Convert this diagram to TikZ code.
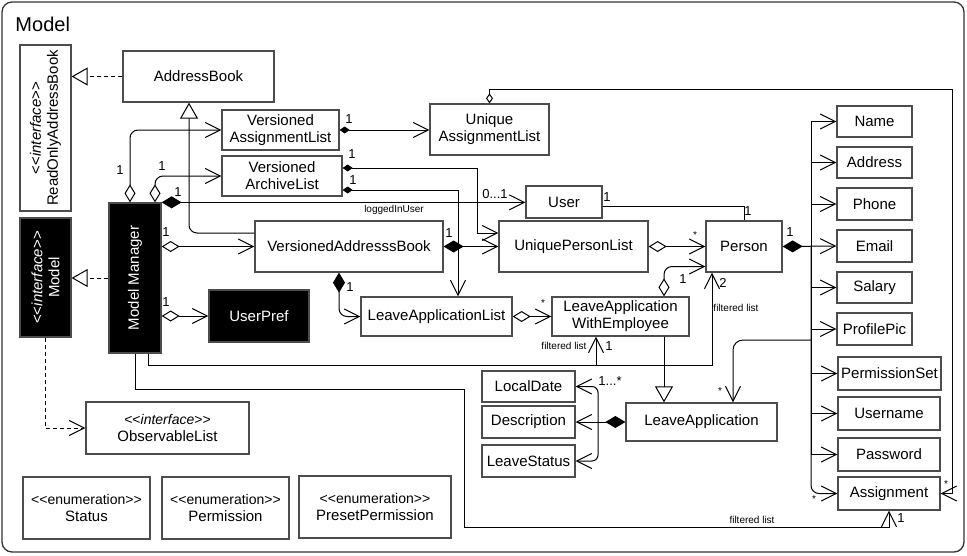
\documentclass[tikz,border=0pt]{standalone}
\usepackage{fontspec}
\setmainfont{Liberation Sans}
\usepackage{tikz}
\usetikzlibrary{arrows.meta}
\newcommand\ster[1]{<{}<#1>{}>}

\begin{document}
\begin{tikzpicture}[x=1pt,y=-1pt,line width=1pt,align=center,
    >={Straight Barb[length=15pt,width=15pt]},
    cls/.style={draw=black!70,line width=1.3pt,inner sep=1pt,font=\fontsize{15}{17}\selectfont},
    dark/.style={cls,fill=black,text=white},
    mult/.style={inner sep=0pt,font=\fontsize{13}{13}\selectfont},
    note/.style={inner sep=0pt,font=\fontsize{10}{10}\selectfont},
    agg/.style={{Diamond[open,length=18pt,width=11pt]}->},
    comp/.style={{Diamond[length=20pt,width=12pt]}->},
    sagg/.style={{Diamond[open,length=10pt,width=7pt]}->},
    scomp/.style={{Diamond[length=10pt,width=7pt]}->},
    gen/.style={-{Triangle[open,length=16pt,width=18pt]}},
    real/.style={dash pattern=on 4pt off 3pt,gen},
    dep/.style={dash pattern=on 4pt off 3pt,->}]
  \useasboundingbox (0,0) rectangle (967,555);
  \draw[line width=1.3pt,draw=black!80,rounded corners=10pt] (2,2) rectangle (964,552);
  \node[anchor=west,inner sep=0pt,font=\fontsize{20}{20}\selectfont] at (15,24) (title) {Model};

  % classes, rotated ones read bottom to top
  \node[cls,rotate=90,minimum width=166,minimum height=51] at (45.5,128) (ROAB) {\ster{\textit{interface}}\\ReadOnlyAddressBook};
  \node[dark,rotate=90,minimum width=119,minimum height=51] at (45.5,277.5) (Model) {\ster{\textit{interface}}\\Model};
  \node[dark,rotate=90,minimum width=150,minimum height=52] at (135,278) (MM) {Model Manager};
  \node[cls,minimum width=151,minimum height=51] at (198.5,76.5) (AB) {AddressBook};
  \node[cls,minimum width=117,minimum height=40] at (280.5,130) (VAssign) {Versioned\\AssignmentList};
  \node[cls,minimum width=120,minimum height=40] at (282,176) (VArch) {Versioned\\ArchiveList};
  \node[cls,minimum width=119,minimum height=51] at (489.5,129.5) (UAssign) {Unique\\AssignmentList};
  \node[cls,minimum width=188,minimum height=51] at (349,246.5) (VAB) {VersionedAddresssBook};
  \node[cls,minimum width=149,minimum height=51] at (573.5,246.5) (UPList) {UniquePersonList};
  \node[cls,minimum width=76,minimum height=32] at (564,202) (User) {User};
  \node[cls,minimum width=76,minimum height=51] at (744,246.5) (Person) {Person};
  \node[dark,minimum width=100,minimum height=52] at (259,316) (UPref) {UserPref};
  \node[cls,minimum width=151,minimum height=39] at (436.5,316.5) (LeaveList) {LeaveApplicationList};
  \node[cls,minimum width=137,minimum height=39] at (620.5,316.5) (LeaveEmp) {LeaveApplication\\WithEmployee};
  \node[cls,minimum width=151,minimum height=38] at (701.5,422) (LeaveApp) {LeaveApplication};
  \node[cls,minimum width=93,minimum height=31] at (528.5,386.5) (LDate) {LocalDate};
  \node[cls,minimum width=93,minimum height=32] at (528.5,422) (Descr) {Description};
  \node[cls,minimum width=93,minimum height=32] at (528.5,461) (LStatus) {LeaveStatus};
  \node[cls,minimum width=163,minimum height=52] at (167.5,428) (ObsList) {{\fontsize{14}{16}\selectfont\ster{\textit{interface}}}\\ObservableList};
  \node[cls,minimum width=127,minimum height=62] at (86.5,508) (Status) {{\fontsize{14}{16}\selectfont\ster{enumeration}}\\Status};
  \node[cls,minimum width=127,minimum height=62] at (225.5,508) (Perm) {{\fontsize{14}{16}\selectfont\ster{enumeration}}\\Permission};
  \node[cls,minimum width=152,minimum height=62] at (375,507) (Preset) {{\fontsize{14}{16}\selectfont\ster{enumeration}}\\PresetPermission};

  % person fields
  \node[cls,minimum width=75,minimum height=31] at (874.5,121.5) (Name) {Name};
  \node[cls,minimum width=75,minimum height=31] at (874.5,162.5) (Address) {Address};
  \node[cls,minimum width=75,minimum height=32] at (874.5,204) (Phone) {Phone};
  \node[cls,minimum width=75,minimum height=32] at (874.5,246) (Email) {Email};
  \node[cls,minimum width=75,minimum height=31] at (874.5,287.5) (Salary) {Salary};
  \node[cls,minimum width=75,minimum height=32] at (874.5,329) (ProfPic) {ProfilePic};
  \node[cls,minimum width=103,minimum height=33] at (889.5,373.5) (PermSet) {PermissionSet};
  \node[cls,minimum width=102,minimum height=33] at (889,413.5) (UserName) {Username};
  \node[cls,minimum width=102,minimum height=33] at (889,454.5) (Passwd) {Password};
  \node[cls,minimum width=102,minimum height=33] at (889,493.5) (Assign) {Assignment};

  \coordinate (bus) at (811,246.5);
  \coordinate (busLA) at (811,340);
  \coordinate (lbus) at (598,422);

  % interfaces and inheritance
  \draw[real] (AB.west) -- (AB.west -| ROAB.south);
  \draw[real] (MM.north) -- (MM.north -| Model.south);
  \draw[dep] (Model.west) |- (ObsList.west);
  \draw[gen,rounded corners=8pt] ([yshift=13.5pt]VAB.west) -| ([xshift=-9.5pt]AB.south);
  \draw[gen] ([xshift=43.5pt]LeaveEmp.south) -- ([xshift=43.5pt]LeaveEmp.south |- LeaveApp.north);

  % model manager
  \draw[agg,rounded corners=8pt] ([xshift=-5pt]MM.east) |- (VAssign.west);
  \draw[agg,rounded corners=8pt] ([xshift=20pt]MM.east) |- (VArch.west);
  \draw[comp] (MM.south east) -- (MM.south east -| User.west);
  \draw[agg] (MM.south |- VAB.west) -- (VAB.west);
  \draw[agg] (MM.south |- UPref.west) -- (UPref.west);
  \draw[->] ([xshift=13pt]MM.west) -- ++(0,12) -| ([xshift=-24.5pt]LeaveEmp.south);
  \draw[->] ([xshift=13pt]MM.west) -- ++(0,12) -| ([xshift=-32pt]Person.south);
  \draw[->] (MM.west) |- (464,389) -- (464,527) -| (Assign.south);

  % lists
  \draw[scomp] (VAssign.east) -- (VAssign.east -| UAssign.west);
  \draw[sagg] (UAssign.north) |- (952,89) |- (Assign.east);
  \draw[scomp] ([yshift=8pt]VArch.east) -| (477,233) -- ([yshift=13.5pt]UPList.west);
  \draw[scomp] ([yshift=-14pt]VArch.east) -| ([xshift=21.5pt]LeaveList.north);
  \draw[comp] (VAB.east) -- (UPList.west);
  \draw[comp,rounded corners=8pt] ([xshift=-10pt]VAB.south) |- (LeaveList.west);
  \draw[agg] (UPList.east) -- (Person.west);
  \draw ([yshift=-4pt]User.east) -| (Person.north);
  \draw[agg] (LeaveList.east) -- (LeaveEmp.west);
  \draw[agg,rounded corners=8pt] ([xshift=43.5pt]LeaveEmp.north) |- ([yshift=-20pt]Person.west);

  % fields
  \draw[comp] (Person.east) -- (Email.west);
  \foreach \f in {Name,Address,Phone,Salary,ProfPic,PermSet,UserName,Passwd}
    \draw[->] (bus) |- (\f.west);
  \draw[->,rounded corners=8pt] (bus) |- (Assign.west);
  \draw[->,rounded corners=10pt] (busLA) -| ([xshift=31.5pt]LeaveApp.north);
  \draw[comp] (LeaveApp.west) -- (Descr.east);
  \draw[->,rounded corners=6pt] (lbus) |- (LDate.east);
  \draw[->,rounded corners=6pt] (lbus) |- (LStatus.east);

  % multiplicities and roles
  \node[mult] at (120,170) (m1) {1};
  \node[mult] at (162,166) (m2) {1};
  \node[mult] at (178,192) (m3) {1};
  \node[note] at (394,210) (r1) {loggedInUser};
  \node[mult] at (495,194) (m4) {0...1};
  \node[mult] at (166,232) (m5) {1};
  \node[mult] at (166,302) (m6) {1};
  \node[mult] at (349,119) (m7) {1};
  \node[mult] at (352,154) (m8) {1};
  \node[mult] at (353,180) (m9) {1};
  \node[mult] at (449,233) (m10) {1};
  \node[mult] at (350,287) (m11) {1};
  \node[note] at (695,235) (s1) {*};
  \node[mult] at (607,197) (m12) {1};
  \node[mult] at (748,211) (m13) {1};
  \node[mult] at (790,232) (m14) {1};
  \node[note] at (543,303) (s2) {*};
  \node[mult] at (683,279) (m15) {1};
  \node[mult] at (723,283) (m16) {2};
  \node[note] at (736,308) (r2) {filtered list};
  \node[note] at (564,346) (r3) {filtered list};
  \node[mult] at (609,346) (m17) {1};
  \node[mult] at (610,381) (m18) {1...*};
  \node[note] at (720,391) (s3) {*};
  \node[note] at (814,499) (s4) {*};
  \node[note] at (946,484) (s5) {*};
  \node[note] at (752,520) (r4) {filtered list};
  \node[mult] at (901,518) (m19) {1};
\end{tikzpicture}
\end{document}
